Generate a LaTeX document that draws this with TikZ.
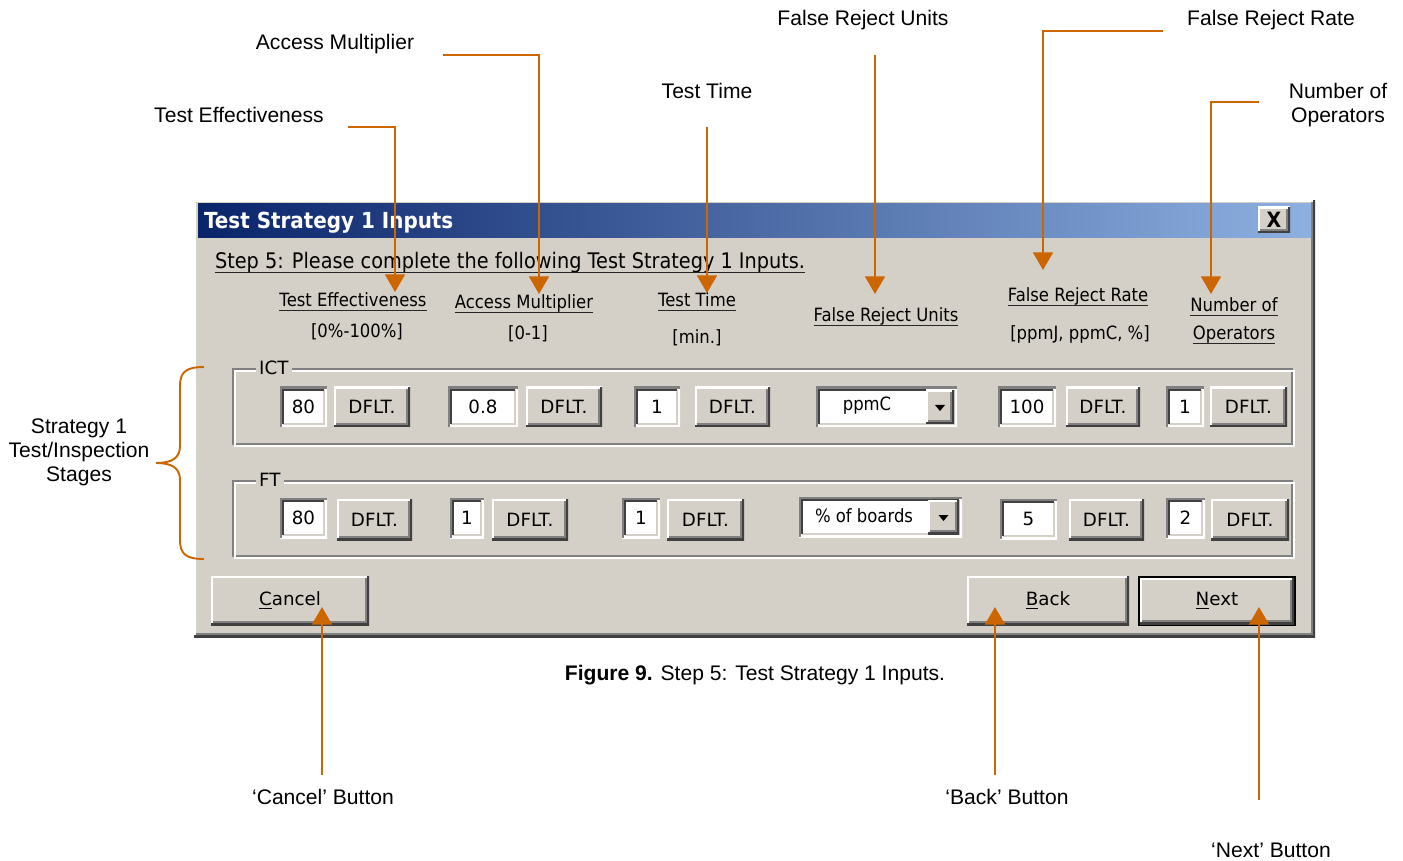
\documentclass[tikz,border=0pt]{standalone}
\usepackage{fontspec}
\setmainfont{Liberation Sans}
\newfontfamily\ui[FakeStretch=0.9]{DejaVu Sans}
\newfontfamily\uiwide{DejaVu Sans}
\usetikzlibrary{arrows.meta}

\definecolor{winface}{HTML}{D4D0C8}
\definecolor{winshadow}{HTML}{808080}
\definecolor{windark}{HTML}{404040}
\definecolor{titleL}{HTML}{0A246A}
\definecolor{titleR}{HTML}{8DB0E0}
\definecolor{callorange}{HTML}{CC6600}

% a box given by its top-left and bottom-right corners (in px)
\newcommand\uibox[7]{\node[#1, minimum width={(#5-#3)*0.02cm}, minimum height={(#6-#4)*0.02cm}, anchor=north west] (#2) at (#3,#4) {#7};}
% underline drawn just below the baseline of a text node
\newcommand\underrule[1]{\draw[ulrule] ([yshift=-1.9pt]#1.base west) -- ([yshift=-1.9pt]#1.base east);}
\newcommand\uisize{\ui\fontsize{10.4pt}{12pt}\selectfont}
\newcommand\ctrlsize{\uiwide\fontsize{10.4pt}{12pt}\selectfont}

\tikzset{
  uibase/.style={inner sep=0pt, outer sep=0pt, font=\uisize},
  raised/.style={uibase, fill=winface, font=\ctrlsize,
    path picture={
      \draw[line width=2.2pt, white] (path picture bounding box.south west) |- (path picture bounding box.north east);
      \draw[line width=2.2pt, windark] (path picture bounding box.south west) -| (path picture bounding box.north east);
      \draw[line width=1.1pt, winshadow] ([xshift=1.1pt,yshift=1.65pt]path picture bounding box.south west) -| ([xshift=-1.65pt,yshift=-1.1pt]path picture bounding box.north east);
    }},
  sunken/.style={uibase, fill=white, font=\ctrlsize,
    path picture={
      \draw[line width=2.2pt, white] (path picture bounding box.south west) -| (path picture bounding box.north east);
      \draw[line width=2.2pt, winshadow] (path picture bounding box.south west) |- (path picture bounding box.north east);
      \draw[line width=1.1pt, winface] ([xshift=1.65pt,yshift=1.65pt]path picture bounding box.south west) -| ([xshift=-1.65pt,yshift=-1.65pt]path picture bounding box.north east);
      \draw[line width=1.1pt, windark] ([xshift=1.65pt,yshift=1.65pt]path picture bounding box.south west) |- ([xshift=-1.65pt,yshift=-1.65pt]path picture bounding box.north east);
    }},
  groupbox/.style={uibase,
    path picture={
      \draw[line width=1.1pt, winshadow] ([xshift=0.55pt,yshift=1.65pt]path picture bounding box.south west) rectangle ([xshift=-1.65pt,yshift=-0.55pt]path picture bounding box.north east);
      \draw[line width=1.1pt, white] ([xshift=1.65pt,yshift=0.55pt]path picture bounding box.south west) rectangle ([xshift=-0.55pt,yshift=-1.65pt]path picture bounding box.north east);
    }},
  grouplabel/.style={uibase, fill=winface, inner xsep=1.8pt, anchor=west, font=\ctrlsize},
  hdr/.style={uibase, anchor=base},
  ulrule/.style={line width=0.8pt, black!85},
  titlebar/.style={uibase, left color=titleL, right color=titleR},
  note/.style={inner sep=0pt, font=\fontsize{12pt}{13.6pt}\selectfont, align=center},
  callout/.style={draw=callorange, line width=1.1pt, -{Triangle[length=10pt,width=11.3pt]}},
  bracestyle/.style={draw=callorange, line width=1.1pt},
}

\begin{document}
\begin{tikzpicture}[x=0.02cm, y=-0.02cm]
\useasboundingbox (0,0) rectangle (1403,861);
\fill[white] (0,0) rectangle (1403,861);

% ---------- dialog window ----------
\uibox{raised}{dlg}{194}{200}{1315}{637}{}
\uibox{titlebar}{title}{198}{204}{1311}{238}{}
\node[uibase, anchor=base west, text=white, font=\ui\bfseries\fontsize{12.6pt}{14pt}\selectfont] (titletext) at (204,229) {Test Strategy 1 Inputs};
\uibox{raised}{closebtn}{1258}{207}{1290}{233}{\ui\bfseries\fontsize{12pt}{12pt}\selectfont X}

\node[uibase, anchor=base west, font=\ui\fontsize{12.2pt}{14pt}\selectfont] (step) at (215,269) {Step 5: Please complete the following Test Strategy 1 Inputs.};
\underrule{step}

% column headers
\node[hdr] (hTE) at (353,307) {Test Effectiveness}; \underrule{hTE}
\node[hdr] (rTE) at (357,338) {[0\%-100\%]};
\node[hdr] (hAM) at (524,309) {Access Multiplier}; \underrule{hAM}
\node[hdr] (rAM) at (528,340) {[0-1]};
\node[hdr] (hTT) at (697,307) {Test Time}; \underrule{hTT}
\node[hdr] (rTT) at (697,344) {[min.]};
\node[hdr] (hFRU) at (886,322) {False Reject Units}; \underrule{hFRU}
\node[hdr] (hFRR) at (1078,302) {False Reject Rate}; \underrule{hFRR}
\node[hdr] (rFRR) at (1080,340) {[ppmJ, ppmC, \%]};
\node[hdr] (hNO) at (1234,312) {Number of}; \underrule{hNO}
\node[hdr] (hNO2) at (1234,340) {Operators}; \underrule{hNO2}

% ---------- ICT stage ----------
\uibox{groupbox}{ictbox}{232}{368}{1295}{447}{}
\node[grouplabel] (ictlabel) at (256,368) {ICT};
\uibox{sunken}{ictTE}{280}{387}{327}{427}{80}
\uibox{raised}{ictTEd}{334}{387}{410}{427}{DFLT.}
\uibox{sunken}{ictAM}{448}{387}{518}{427}{0.8}
\uibox{raised}{ictAMd}{526}{387}{602}{427}{DFLT.}
\uibox{sunken}{ictTT}{634}{387}{680}{427}{1}
\uibox{raised}{ictTTd}{695}{387}{770}{427}{DFLT.}
\uibox{sunken}{ictFRU}{816}{387}{957}{427}{}
\uibox{raised}{ictFRUd}{926}{390}{954}{424}{}
\fill ([shift={(-5,-2)}]ictFRUd.center) -- ++(10,0) -- ++(-5,6) -- cycle;
\node[uibase] (ictFRUt) at (867,406) {ppmC};
\uibox{sunken}{ictFRR}{998}{387}{1056}{427}{100}
\uibox{raised}{ictFRRd}{1066}{387}{1140}{427}{DFLT.}
\uibox{sunken}{ictNO}{1166}{387}{1204}{427}{1}
\uibox{raised}{ictNOd}{1210}{387}{1287}{427}{DFLT.}

% ---------- FT stage ----------
\uibox{groupbox}{ftbox}{232}{480}{1295}{559}{}
\node[grouplabel] (ftlabel) at (256,480) {FT};
\uibox{sunken}{ftTE}{280}{498}{327}{538}{80}
\uibox{raised}{ftTEd}{337}{499}{412}{540}{DFLT.}
\uibox{sunken}{ftAM}{450}{498}{484}{538}{1}
\uibox{raised}{ftAMd}{492}{499}{568}{540}{DFLT.}
\uibox{sunken}{ftTT}{622}{498}{660}{538}{1}
\uibox{raised}{ftTTd}{667}{499}{744}{540}{DFLT.}
\uibox{sunken}{ftFRU}{799}{497}{962}{537}{}
\uibox{raised}{ftFRUd}{928}{500}{959}{534}{}
\fill ([shift={(-5,-2)}]ftFRUd.center) -- ++(10,0) -- ++(-5,6) -- cycle;
\node[uibase] (ftFRUt) at (864,516) {\% of boards};
\uibox{sunken}{ftFRR}{1000}{499}{1057}{539}{5}
\uibox{raised}{ftFRRd}{1069}{499}{1144}{540}{DFLT.}
\uibox{sunken}{ftNO}{1166}{498}{1205}{538}{2}
\uibox{raised}{ftNOd}{1211}{499}{1289}{540}{DFLT.}

% ---------- bottom buttons ----------
\uibox{raised}{cancelbtn}{211}{576}{369}{625}{\underline{C}ancel}
\uibox{raised}{backbtn}{967}{576}{1129}{625}{\underline{B}ack}
\uibox{uibase, fill=black}{nextframe}{1138}{576}{1296}{626}{}
\uibox{raised}{nextbtn}{1140}{578}{1294}{624}{\underline{N}ext}

% ---------- caption ----------
\node[note] (caption) at (755,675) {\textbf{Figure 9.} Step 5: Test Strategy 1 Inputs.};

% ---------- callout labels ----------
\node[note] (lTE) at (239,115) {Test Effectiveness};
\node[note] (lAM) at (335,44) {Access Multiplier};
\node[note] (lTT) at (707,91) {Test Time};
\node[note] (lFRU) at (863,20) {False Reject Units};
\node[note] (lFRR) at (1271,20) {False Reject Rate};
\node[note] (lNO) at (1338,105) {Number of\\Operators};
\node[note] (lStages) at (79,452) {Strategy 1\\Test/Inspection\\Stages};
\node[note] (lCancel) at (323,797) {‘Cancel’ Button};
\node[note] (lBack) at (1007,797) {‘Back’ Button};
\node[note] (lNext) at (1271,850) {‘Next’ Button};

% callout connectors
\coordinate (cTE) at (348,127);   \coordinate (tTE) at (395,292);
\coordinate (cAM) at (443,55);    \coordinate (tAM) at (539,294);
\coordinate (cTT) at (707,127);   \coordinate (tTT) at (707,293);
\coordinate (cFRU) at (875,55);   \coordinate (tFRU) at (875,294);
\coordinate (cFRR) at (1163,31);  \coordinate (tFRR) at (1043,270);
\coordinate (cNO) at (1259,102);  \coordinate (tNO) at (1211,294);
\coordinate (cCancel) at (322,775); \coordinate (tCancel) at (322,607);
\coordinate (cBack) at (995,775);   \coordinate (tBack) at (995,607);
\coordinate (cNext) at (1259,800);  \coordinate (tNext) at (1259,607);

\draw[callout] (cTE) -| (tTE);
\draw[callout] (cAM) -| (tAM);
\draw[callout] (cTT) -- (tTT);
\draw[callout] (cFRU) -- (tFRU);
\draw[callout] (cFRR) -| (tFRR);
\draw[callout] (cNO) -| (tNO);
\draw[callout] (cCancel) -- (tCancel);
\draw[callout] (cBack) -- (tBack);
\draw[callout] (cNext) -- (tNext);

% brace grouping the two stages
\draw[bracestyle] (204,367) .. controls (186,367) and (180,372) .. (180,386)
  -- (180,446) .. controls (180,458) and (172,463) .. (156,463)
  .. controls (172,463) and (180,468) .. (180,480)
  -- (180,540) .. controls (180,554) and (186,559) .. (204,559);
\end{tikzpicture}
\end{document}
